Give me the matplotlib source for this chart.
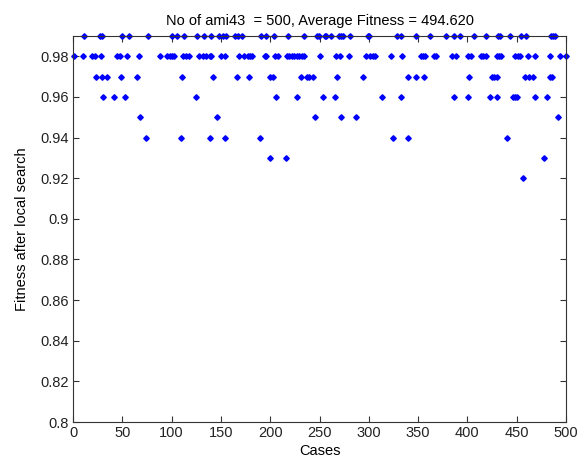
import matplotlib
matplotlib.use('Agg')
import matplotlib.pyplot as plt
import numpy as np

# cases grouped by fitness level (only the points visible inside the y range)
cases_099 = [11, 27, 29, 50, 57, 76, 100, 105, 113, 126, 133, 140, 148, 152, 155, 164, 167, 171,
             191, 196, 204, 218, 234, 247, 249, 256, 257, 262, 270, 272, 274, 281, 299, 300,
             329, 333, 348, 362, 378, 386, 392, 407, 419, 431, 433, 443, 454, 459, 485, 487, 489]
cases_098 = [1, 10, 19, 22, 28, 45, 48, 55, 67, 88, 95, 98, 100, 102, 112, 115, 118, 128, 132,
             135, 139, 140, 150, 154, 168, 173, 177, 179, 182, 195, 196, 205, 208, 217, 219, 222,
             224, 227, 229, 232, 234, 250, 267, 271, 280, 297, 301, 304, 306, 322, 334, 353, 355,
             357, 366, 368, 384, 388, 401, 404, 414, 416, 419, 430, 432, 434, 448, 451, 453, 461,
             469, 484, 494, 500]
cases_097 = [23, 29, 34, 49, 65, 111, 142, 166, 178, 200, 203, 231, 237, 239, 243, 268, 294,
             340, 348, 356, 402, 425, 427, 430, 458, 462, 467, 484, 486]
cases_096 = [30, 42, 53, 125, 206, 227, 254, 266, 313, 333, 386, 401, 423, 430, 446, 448, 450,
             469, 481]
cases_095 = [68, 146, 245, 272, 287, 492]
cases_094 = [74, 110, 139, 154, 190, 325, 340, 440]
cases_093 = [200, 216, 478]
cases_092 = [456]

levels = [0.99, 0.98, 0.97, 0.96, 0.95, 0.94, 0.93, 0.92]
groups = [cases_099, cases_098, cases_097, cases_096, cases_095, cases_094, cases_093, cases_092]

x = np.concatenate([np.array(g, dtype=float) for g in groups])
y = np.concatenate([np.full(len(g), lv) for g, lv in zip(groups, levels)])

plt.rcParams['font.family'] = ['Liberation Sans', 'DejaVu Sans']
fs = 10.5

fig = plt.figure(figsize=(5.86, 4.59), dpi=100)
ax = fig.add_axes([0.1246, 0.0806, 0.8413, 0.841])
ax.plot(x, y, linestyle='none', marker='D', markersize=2.8, color='blue', clip_on=False)

ax.set_xlim(0, 500)
ax.set_ylim(0.8, 0.99)
ax.set_xticks(np.arange(0, 501, 50))
yt = np.arange(0.80, 0.981, 0.02)
ax.set_yticks(yt)
ax.set_yticklabels(['%g' % round(v, 2) for v in yt])
ax.tick_params(direction='in', top=True, right=True, length=4, width=0.8, color='#333333',
               labelsize=fs, pad=3, labelcolor='#222222')
for s in ax.spines.values():
    s.set_color('#333333')
    s.set_linewidth(0.8)

ax.set_title('No of ami43  = 500, Average Fitness = 494.620', fontsize=fs, pad=8)
ax.set_xlabel('Cases', fontsize=fs, labelpad=3)
ax.set_ylabel('Fitness after local search', fontsize=fs, labelpad=8)

fig.savefig('out.png', dpi=100, facecolor='white')
